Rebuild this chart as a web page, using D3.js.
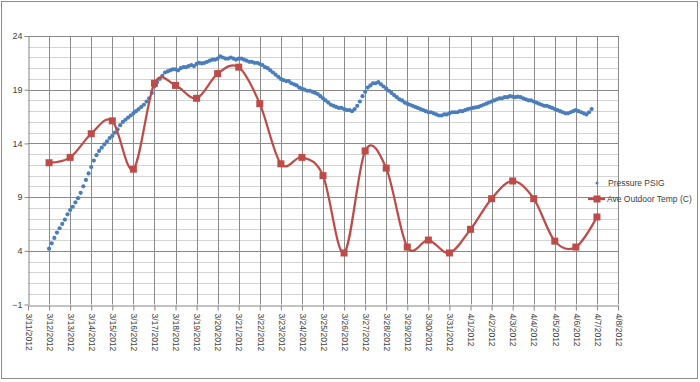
<!DOCTYPE html>
<html>
<head>
  <meta charset="utf-8">
  <title>Pressure vs Outdoor Temp</title>
  <script src="https://d3js.org/d3.v7.min.js"></script>
  <style>
    body { margin: 0; background: #fff; }
    text { font-family: "Liberation Sans", Arial, sans-serif; fill: #404040; }
  </style>
</head>
<body>
<div id="chart"></div>
<script>
// y axis tick labels
const yTicks = [-1, 4, 9, 14, 19, 24];

// daily average outdoor temp, 3/12 .. 4/7
const tempDates = ["3/12/2012","3/13/2012","3/14/2012","3/15/2012","3/16/2012","3/17/2012","3/18/2012",
  "3/19/2012","3/20/2012","3/21/2012","3/22/2012","3/23/2012","3/24/2012","3/25/2012","3/26/2012",
  "3/27/2012","3/28/2012","3/29/2012","3/30/2012","3/31/2012","4/1/2012","4/2/2012","4/3/2012",
  "4/4/2012","4/5/2012","4/6/2012","4/7/2012"];
const tempVals = [12.2, 12.7, 14.9, 16.1, 11.6, 19.6, 19.4, 18.2, 20.5, 21.1, 17.7, 12.1, 12.7, 11.0,
  3.8, 13.3, 11.7, 4.35, 5.0, 3.8, 6.0, 8.85, 10.5, 8.85, 4.9, 4.35, 7.15];

// pressure logger: first reading 3/12/2012 00:00, one reading every 3 hours (PSIG)
const pressureStart = "3/12/2012";
const pressureStepHours = 3;
const pressureVals = [
  4.2, 4.7, 5.2, 5.7, 6.1, 6.5, 6.9, 7.4,          // 3/12
  7.8, 8.1, 8.5, 8.9, 9.4, 10.0, 10.6, 11.2,       // 3/13
  11.8, 12.4, 12.9, 13.3, 13.6, 13.9, 14.2, 14.5,  // 3/14
  14.7, 15.0, 15.3, 15.7, 16.0, 16.2, 16.4, 16.6,  // 3/15
  16.8, 17.0, 17.2, 17.4, 17.6, 17.9, 18.2, 18.7,  // 3/16
  19.3, 19.7, 20.0, 20.3, 20.6, 20.7, 20.8, 20.9,  // 3/17
  20.9, 20.8, 21.0, 21.1, 21.1, 21.2, 21.3, 21.2,  // 3/18
  21.4, 21.5, 21.45, 21.5, 21.6, 21.7, 21.8, 21.8, // 3/19
  21.9, 22.1, 22.0, 21.9, 21.9, 22.0, 21.9, 21.8,  // 3/20
  21.9, 21.9, 21.8, 21.7, 21.6, 21.6, 21.5, 21.5,  // 3/21
  21.4, 21.3, 21.1, 21.0, 20.8, 20.6, 20.4, 20.2,  // 3/22
  20.0, 19.9, 19.8, 19.8, 19.6, 19.5, 19.4, 19.2,  // 3/23
  19.1, 19.0, 18.9, 18.9, 18.8, 18.7, 18.6, 18.4,  // 3/24
  18.2, 18.0, 17.8, 17.6, 17.5, 17.4, 17.3, 17.3,  // 3/25
  17.2, 17.1, 17.1, 17.0, 17.2, 17.5, 17.9, 18.4,  // 3/26
  18.8, 19.2, 19.4, 19.6, 19.6, 19.7, 19.5, 19.3,  // 3/27
  19.1, 18.9, 18.7, 18.5, 18.3, 18.1, 18.0, 17.8,  // 3/28
  17.7, 17.6, 17.5, 17.4, 17.3, 17.2, 17.1, 17.0,  // 3/29
  16.9, 16.9, 16.8, 16.7, 16.6, 16.6, 16.7, 16.7,  // 3/30
  16.8, 16.9, 16.9, 16.9, 17.0, 17.0, 17.1, 17.2,  // 3/31
  17.25, 17.3, 17.35, 17.4, 17.5, 17.6, 17.7, 17.8, // 4/1
  17.9, 18.0, 18.1, 18.2, 18.2, 18.3, 18.3, 18.4,  // 4/2
  18.35, 18.3, 18.35, 18.3, 18.2, 18.1, 18.0, 18.0, // 4/3
  17.9, 17.8, 17.7, 17.6, 17.5, 17.5, 17.4, 17.3,  // 4/4
  17.2, 17.1, 17.0, 16.9, 16.8, 16.8, 16.9, 17.0,  // 4/5
  17.1, 17.0, 16.9, 16.8, 16.7, 16.9, 17.2         // 4/6
];

const width = 700, height = 382;
const margin = {top: 36, right: 82, bottom: 77.5, left: 28};
const blue = "#4a7ebb", red = "#be4b48";

const parse = d3.timeParse("%m/%d/%Y");
const start = parse("3/11/2012"), end = parse("4/8/2012");

const svg = d3.select("#chart").append("svg")
  .attr("width", width)
  .attr("height", height);

// chart border
svg.append("rect")
  .attr("x", 1.5).attr("y", 1.5)
  .attr("width", width - 4).attr("height", height - 5)
  .attr("fill", "#fff")
  .attr("stroke", "#8c8c8c");

const x = d3.scaleTime()
  .domain([start, end])
  .range([margin.left, width - margin.right]);

const y = d3.scaleLinear()
  .domain([-1, 24])
  .range([height - margin.bottom, margin.top]);

const days = d3.timeDay.range(start, d3.timeDay.offset(end, 1));

// minor horizontal gridlines
svg.append("g")
  .selectAll("line")
  .data(d3.range(-1, 25).filter(v => !yTicks.includes(v)))
  .join("line")
  .attr("x1", x(start)).attr("x2", x(end))
  .attr("y1", d => Math.round(y(d)) + 0.5).attr("y2", d => Math.round(y(d)) + 0.5)
  .attr("stroke", "#d4d4d4");

// major gridlines
svg.append("g")
  .selectAll("line")
  .data(yTicks.slice(1))
  .join("line")
  .attr("x1", x(start)).attr("x2", x(end))
  .attr("y1", d => Math.round(y(d)) + 0.5).attr("y2", d => Math.round(y(d)) + 0.5)
  .attr("stroke", "#8a8a8a");

svg.append("g")
  .selectAll("line")
  .data(days.slice(1))
  .join("line")
  .attr("x1", d => Math.round(x(d)) + 0.5).attr("x2", d => Math.round(x(d)) + 0.5)
  .attr("y1", y(24)).attr("y2", y(-1))
  .attr("stroke", "#8a8a8a");

// x axis
const xAxis = svg.append("g")
  .attr("transform", "translate(0," + (Math.round(y(-1)) + 0.5) + ")")
  .call(d3.axisBottom(x).tickValues(days).tickSize(5).tickSizeOuter(0)
    .tickFormat(d3.timeFormat("%-m/%-d/%Y")));
xAxis.select(".domain").attr("stroke", "#868686");
xAxis.selectAll(".tick line").attr("stroke", "#868686");
xAxis.selectAll(".tick text")
  .attr("font-size", "8.5px")
  .attr("text-anchor", "start")
  .attr("transform", "rotate(90)")
  .attr("x", 8).attr("y", 0).attr("dy", "0.32em");

// y axis
const yAxis = svg.append("g")
  .attr("transform", "translate(" + (Math.round(x(start)) + 0.5) + ",0)")
  .call(d3.axisLeft(y).tickValues(yTicks).tickSize(4).tickSizeOuter(0));
yAxis.select(".domain").attr("stroke", "#868686");
yAxis.selectAll(".tick line").attr("stroke", "#868686");
yAxis.selectAll(".tick text").attr("font-size", "9px").attr("x", -6);

// pressure scatter
const p0 = parse(pressureStart);
const pressure = pressureVals.map((v, i) => ({date: d3.timeHour.offset(p0, i * pressureStepHours), v: v}));
svg.append("g")
  .selectAll("circle")
  .data(pressure)
  .join("circle")
  .attr("cx", d => x(d.date))
  .attr("cy", d => y(d.v))
  .attr("r", 2.1)
  .attr("fill", blue);

// temperature line
const temp = tempDates.map((d, i) => ({date: parse(d), v: tempVals[i]}));
const line = d3.line()
  .x(d => x(d.date))
  .y(d => y(d.v))
  .curve(d3.curveCardinal.tension(0));

svg.append("path")
  .datum(temp)
  .attr("d", line)
  .attr("fill", "none")
  .attr("stroke", red)
  .attr("stroke-width", 2.25);

svg.append("g")
  .selectAll("rect")
  .data(temp)
  .join("rect")
  .attr("x", d => x(d.date) - 3.5)
  .attr("y", d => y(d.v) - 3.5)
  .attr("width", 7).attr("height", 7)
  .attr("fill", red);

// legend
const lg = svg.append("g").attr("transform", "translate(597,183)");
lg.append("circle").attr("r", 1.5).attr("fill", blue);
lg.append("text").attr("x", 11).attr("dy", "0.35em").attr("font-size", "8.5px").text("Pressure PSIG");
lg.append("line").attr("x1", -9).attr("x2", 8).attr("y1", 16).attr("y2", 16)
  .attr("stroke", red).attr("stroke-width", 2.25);
lg.append("rect").attr("x", -3.5).attr("y", 12.5).attr("width", 7).attr("height", 7).attr("fill", red);
lg.append("text").attr("x", 10).attr("y", 16).attr("dy", "0.35em").attr("font-size", "8.5px").text("Ave Outdoor Temp (C)");
</script>
</body>
</html>
